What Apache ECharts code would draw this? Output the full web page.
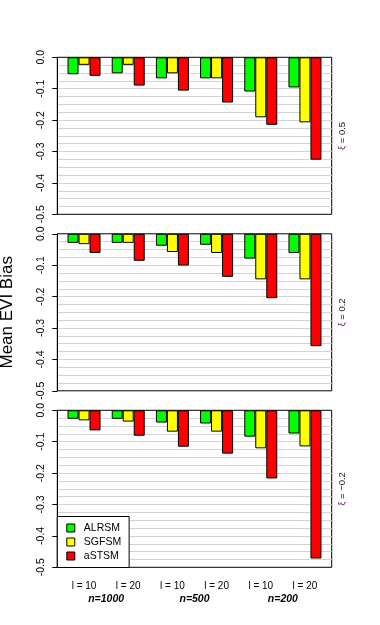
<!DOCTYPE html>
<html>
<head>
<meta charset="utf-8">
<script src="https://cdn.jsdelivr.net/npm/echarts@6/dist/echarts.min.js"></script>
<style>
  html, body { margin: 0; padding: 0; background: #fff; }
</style>
</head>
<body>
<!-- 380x625 chart -->
<div id="container" style="width: 380px;height:625px;"></div>
<script>
  // categories
  var groups = ['l = 10', 'l = 20', 'l = 10', 'l = 20', 'l = 10', 'l = 20'];
  var sampleSizes = ['n=1000', 'n=500', 'n=200'];
  var methods = ['ALRSM', 'SGFSM', 'aSTSM'];
  var xiLabels = ['0.5', '0.2', '\u22120.2'];
  var yTicks = [0, -0.1, -0.2, -0.3, -0.4, -0.5];

  // mean EVI bias, xi = 0.5
  var xi05_ALRSM = [-0.054, -0.051, -0.067, -0.067, -0.109, -0.096];
  var xi05_SGFSM = [-0.024, -0.024, -0.051, -0.067, -0.191, -0.207];
  var xi05_aSTSM = [-0.059, -0.090, -0.106, -0.144, -0.215, -0.326];
  // xi = 0.2
  var xi02_ALRSM = [-0.029, -0.029, -0.038, -0.035, -0.079, -0.061];
  var xi02_SGFSM = [-0.033, -0.029, -0.058, -0.061, -0.145, -0.145];
  var xi02_aSTSM = [-0.061, -0.086, -0.101, -0.137, -0.205, -0.358];
  // xi = -0.2
  var xim02_ALRSM = [-0.027, -0.027, -0.039, -0.042, -0.084, -0.074];
  var xim02_SGFSM = [-0.032, -0.036, -0.068, -0.068, -0.121, -0.115];
  var xim02_aSTSM = [-0.064, -0.081, -0.116, -0.138, -0.217, -0.472];

  var panels = [
    [xi05_ALRSM, xi05_SGFSM, xi05_aSTSM],
    [xi02_ALRSM, xi02_SGFSM, xi02_aSTSM],
    [xim02_ALRSM, xim02_SGFSM, xim02_aSTSM]
  ];

  var colors = ['#00ff00', '#ffff00', '#ff0000'];
  var font = 'Liberation Sans, Arial, sans-serif';
  var tops = [57.3, 233.8, 410.3];
  var panelH = 157;
  // R barplot style padding: 4% on each side of the bar range
  var xMin = -0.605, xMax = groups.length - 1 + 0.605;

  var myChart = echarts.init(document.getElementById('container'));

  var grid = [], xAxis = [], yAxis = [], series = [];
  var groupIdx = groups.map(function (g, i) { return i; });

  panels.forEach(function (panel, p) {
    var last = p === panels.length - 1;
    grid.push({
      left: 57.3, width: 274.4, top: tops[p], height: panelH,
      outerBoundsMode: 'none', containLabel: false,
      show: true, borderColor: '#000', borderWidth: 1, backgroundColor: '#fff'
    });
    xAxis.push({
      type: 'value', gridIndex: p, min: xMin, max: xMax,
      axisLine: {show: false, onZero: false}, axisTick: {show: false}, splitLine: {show: false},
      axisLabel: {
        show: last, customValues: groupIdx, margin: 14,
        fontFamily: font, fontSize: 10, color: '#000',
        formatter: function (v) { return groups[Math.round(v)]; }
      }
    });
    yAxis.push({
      type: 'value', gridIndex: p, min: -0.5, max: 0, interval: 0.1,
      name: p === 1 ? 'Mean EVI Bias' : '',
      nameLocation: 'middle', nameGap: 41,
      nameTextStyle: {fontFamily: font, fontSize: 17, color: '#000'},
      axisLine: {show: true, onZero: false, lineStyle: {color: '#000', width: 1}},
      axisTick: {show: true, length: 5, lineStyle: {color: '#000'}},
      axisLabel: {
        rotate: 90, margin: 11, fontFamily: font, fontSize: 10.5, color: '#000',
        customValues: yTicks,
        formatter: function (v) { return (Math.abs(v) < 1e-9 ? 0 : v).toFixed(1); }
      },
      splitLine: {show: true, showMinLine: false, showMaxLine: false, lineStyle: {color: '#d3d3d3', width: 1}},
      minorTick: {show: false, splitNumber: 4},
      minorSplitLine: {show: true, lineStyle: {color: '#d3d3d3', width: 1}}
    });
    // right side panel label
    yAxis.push({
      type: 'value', gridIndex: p, min: -0.5, max: 0, position: 'right',
      name: '{xi|\u03be} = ' + xiLabels[p],
      nameLocation: 'middle', nameGap: 6, nameRotate: 90,
      nameTextStyle: {
        fontFamily: font, fontSize: 9.5, color: '#14142e',
        rich: {xi: {fontFamily: font, fontSize: 8.5, color: '#5a1660'}}
      },
      axisLine: {show: false}, axisTick: {show: false},
      axisLabel: {show: false}, splitLine: {show: false}
    });
    panel.forEach(function (vals, m) {
      series.push({
        type: 'bar', name: methods[m],
        xAxisIndex: p, yAxisIndex: p * 2,
        barWidth: 11, barGap: '0%',
        itemStyle: {color: colors[m], borderColor: '#000', borderWidth: 1},
        data: vals.map(function (v, i) { return [i, v]; })
      });
    });
  });

  // sample size labels under the bottom panel
  xAxis.push({
    type: 'value', gridIndex: 2, min: xMin, max: xMax, position: 'bottom',
    axisLine: {show: false, onZero: false}, axisTick: {show: false}, splitLine: {show: false},
    axisLabel: {
      customValues: sampleSizes.map(function (s, k) { return 2 * k + 0.5; }),
      margin: 26, fontFamily: font, fontSize: 10.5, fontWeight: 'bold', fontStyle: 'italic', color: '#000',
      formatter: function (v) { return sampleSizes[Math.round((v - 0.5) / 2)]; }
    }
  });

  myChart.setOption({
    animation: false,
    backgroundColor: '#fff',
    grid: grid,
    xAxis: xAxis,
    yAxis: yAxis,
    legend: {
      data: methods,
      orient: 'vertical', left: 57.3, top: 516.5,
      padding: [6, 8, 6, 9],
      itemWidth: 8, itemHeight: 8, itemGap: 3,
      icon: 'rect',
      borderColor: '#000', borderWidth: 1, borderRadius: 0, backgroundColor: '#fff',
      itemStyle: {borderColor: '#000', borderWidth: 1},
      textStyle: {fontFamily: font, fontSize: 10.5, color: '#000', padding: [0, 0, 0, 4]}
    },
    series: series
  });
</script>
</body>
</html>
